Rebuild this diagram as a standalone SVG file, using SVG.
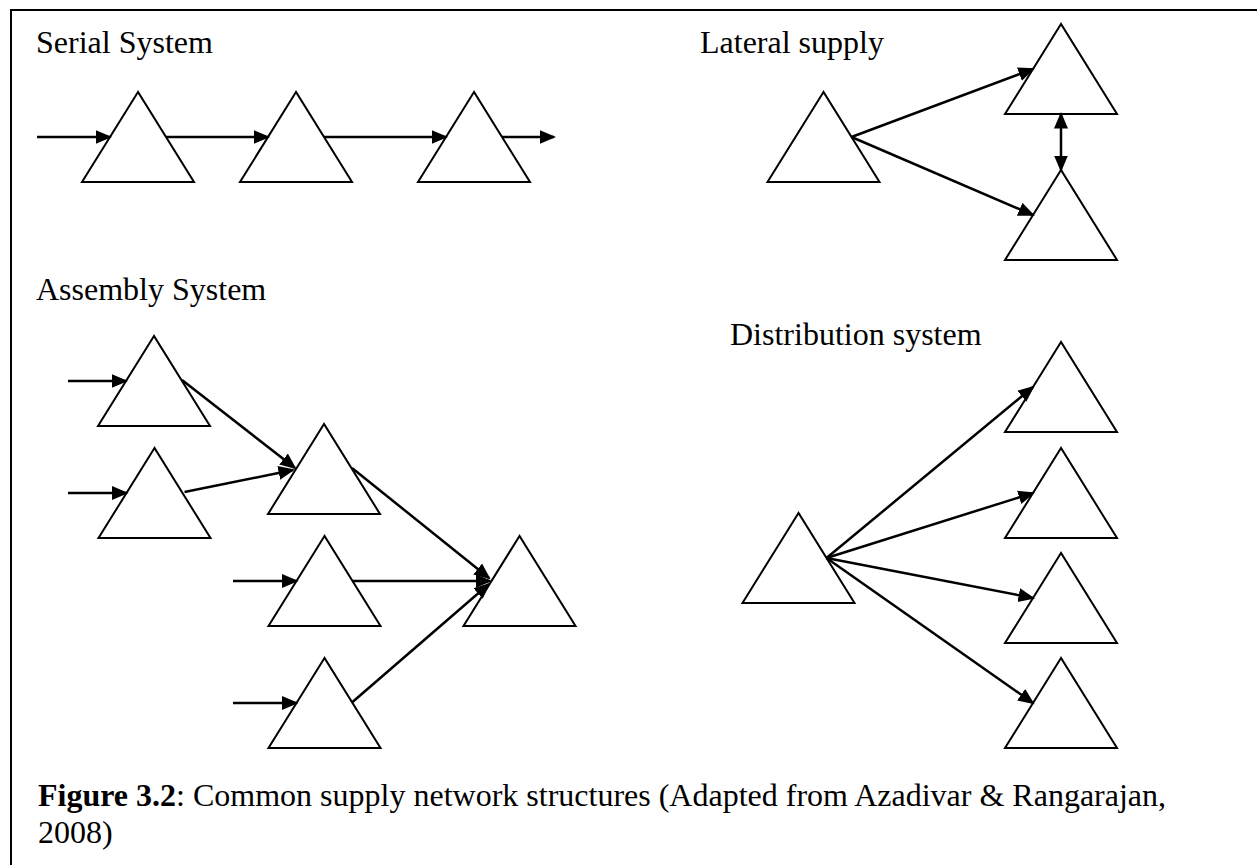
<svg xmlns="http://www.w3.org/2000/svg" width="1257" height="865" viewBox="0 0 1257 865">
<style>
.tri{fill:#fff;stroke:#000;stroke-width:2;stroke-linejoin:miter}
.lbl{font-family:"Liberation Serif","Times New Roman",serif;font-size:32px;fill:#000}
.cap{font-family:"Liberation Serif","Times New Roman",serif;font-size:32px;fill:#000}
.con line{stroke:#000;stroke-width:2.5;marker-end:url(#ah)}
.frame{stroke:#000;stroke-width:2;fill:none}
</style>
<defs>
<marker id="ah" markerUnits="userSpaceOnUse" markerWidth="17" markerHeight="15" viewBox="0 0 17 15" refX="14.5" refY="7.5" orient="auto-start-reverse">
<path d="M0,0.5 L16.5,7.5 L0,14.5 z" fill="#000"/>
</marker>
</defs>
<rect width="1257" height="865" fill="#fff"/>
<path class="frame" d="M11,865 V10 H1257"/>
<text class="lbl" x="36" y="53">Serial System</text>
<text class="lbl" x="700" y="53">Lateral supply</text>
<text class="lbl" x="36" y="300">Assembly System</text>
<text class="lbl" x="730" y="345">Distribution system</text>
<text class="cap" x="38" y="806"><tspan font-weight="bold">Figure 3.2</tspan>: Common supply network structures (Adapted from Azadivar &amp; Rangarajan,</text>
<text class="cap" x="38" y="843">2008)</text>

<g id="serial-1"><polygon class="tri" points="138,92 82,182 194,182"/></g>
<g id="serial-2"><polygon class="tri" points="296,92 240,182 352,182"/></g>
<g id="serial-3"><polygon class="tri" points="474,92 418,182 530,182"/></g>

<g id="lateral-src"><polygon class="tri" points="823.5,92 767.5,182 879.5,182"/></g>
<g id="lateral-top"><polygon class="tri" points="1061,24 1005,114 1117,114"/></g>
<g id="lateral-bot"><polygon class="tri" points="1061,170 1005,260 1117,260"/></g>

<g id="asm-1"><polygon class="tri" points="154,336 98,426 210,426"/></g>
<g id="asm-2"><polygon class="tri" points="154.5,448 98.5,538 210.5,538"/></g>
<g id="asm-3"><polygon class="tri" points="324,424 268,514 380,514"/></g>
<g id="asm-4"><polygon class="tri" points="324.5,536 268.5,626 380.5,626"/></g>
<g id="asm-5"><polygon class="tri" points="324.5,658 268.5,748 380.5,748"/></g>
<g id="asm-6"><polygon class="tri" points="519.5,536 463.5,626 575.5,626"/></g>

<g id="dist-src"><polygon class="tri" points="798.5,513 742.5,603 854.5,603"/></g>
<g id="dist-1"><polygon class="tri" points="1061,342 1005,432 1117,432"/></g>
<g id="dist-2"><polygon class="tri" points="1061,448 1005,538 1117,538"/></g>
<g id="dist-3"><polygon class="tri" points="1061,553 1005,643 1117,643"/></g>
<g id="dist-4"><polygon class="tri" points="1061,658 1005,748 1117,748"/></g>

<g id="connectors" class="con">
<line x1="37" y1="137" x2="110" y2="137"/>
<line x1="166" y1="137" x2="268" y2="137"/>
<line x1="324" y1="137" x2="446" y2="137"/>
<line x1="502" y1="137" x2="554" y2="137"/>

<line x1="851.5" y1="137" x2="1033" y2="69"/>
<line x1="851.5" y1="137" x2="1033" y2="215"/>
<line x1="1061" y1="114" x2="1061" y2="170" style="marker-start:url(#ah)"/>

<line x1="68" y1="381" x2="126" y2="381"/>
<line x1="68" y1="493" x2="126.5" y2="493"/>
<line x1="233" y1="581" x2="296.5" y2="581"/>
<line x1="233" y1="703" x2="296.5" y2="703"/>
<line x1="182" y1="380" x2="295" y2="468"/>
<line x1="184.5" y1="492" x2="293" y2="470"/>
<line x1="352" y1="468" x2="489" y2="578"/>
<line x1="352.5" y1="581" x2="490" y2="581"/>
<line x1="352.5" y1="702" x2="489" y2="584"/>

<line x1="826.5" y1="558" x2="1033" y2="387"/>
<line x1="826.5" y1="558" x2="1033" y2="493"/>
<line x1="826.5" y1="558" x2="1033" y2="598"/>
<line x1="826.5" y1="558" x2="1033" y2="703"/>
</g>
</svg>
